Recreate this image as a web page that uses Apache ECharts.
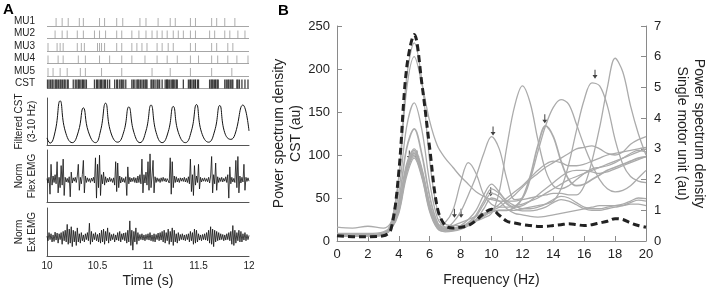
<!DOCTYPE html>
<html><head><meta charset="utf-8">
<script src="https://cdn.jsdelivr.net/npm/echarts@6/dist/echarts.min.js"></script>
<style>html,body{margin:0;padding:0;background:#fff}#c{width:708px;height:292px}</style>
</head><body><div id="c"></div>
<script>
// ---------- Panel A data ----------
const rowNames = ['CST', 'MU5', 'MU4', 'MU3', 'MU2', 'MU1'];
const mu1 = [10.09,10.15,10.21,10.32,10.36,10.52,10.57,10.69,10.75,10.92,10.98,11.10,11.22,11.27,11.42,11.47,11.63,11.68,11.76,11.86];
const mu2 = [10.08,10.15,10.20,10.30,10.36,10.47,10.52,10.58,10.69,10.74,10.84,10.91,10.98,11.04,11.09,11.14,11.19,11.25,11.30,11.35,11.42,11.47,11.61,11.66,11.76,11.81,11.89,11.96];
const mu3 = [10.01,10.10,10.13,10.16,10.30,10.34,10.37,10.50,10.52,10.54,10.57,10.69,10.74,10.84,10.89,10.94,10.99,11.09,11.14,11.20,11.25,11.42,11.47,11.63,11.68,11.79,11.84];
const mu4 = [10.01,10.11,10.16,10.31,10.38,10.52,10.62,10.74,10.84,10.97,11.09,11.19,11.29,11.42,11.50,11.63,11.69,11.79,11.88,11.99];
const mu5 = [10.01,10.06,10.13,10.20,10.33,10.38,10.54,10.74,11.04,11.22,11.42,11.63,11.83];
const cstSpikes = [10.005,10.02,10.035,10.05,10.06,10.08,10.09,10.10,10.115,10.13,10.14,10.155,10.17,10.18,10.20,10.21,
  10.26,10.28,10.295,10.31,10.32,10.335,10.35,10.36,10.375,10.39,
  10.47,10.49,10.50,10.515,10.53,10.54,10.555,10.57,10.58,10.60,10.62,
  10.67,10.69,10.70,10.72,10.735,10.745,10.76,10.78,
  10.84,10.855,10.87,10.89,10.90,10.91,10.925,10.94,10.955,10.97,10.98,10.99,
  11.03,11.04,11.055,11.07,11.09,11.10,11.115,
  11.14,11.17,11.185,11.19,11.20,11.215,11.23,11.245,11.25,11.265,11.28,11.29,
  11.35,11.40,11.415,11.42,11.435,11.45,11.465,11.47,11.49,11.50,
  11.61,11.625,11.635,11.645,11.66,11.67,11.685,11.695,
  11.76,11.775,11.79,11.80,11.815,11.83,11.84,
  11.88,11.89,11.905,11.93,11.96,11.99];

const filtT = [10.00,10.03,10.08,10.13,10.18,10.25,10.31,10.36,10.41,10.48,10.53,10.58,10.63,10.70,10.76,10.81,10.86,10.92,10.98,11.03,11.08,11.14,11.20,11.25,11.30,11.37,11.43,11.48,11.53,11.60,11.66,11.71,11.76,11.82,11.86,11.94,12.00];
const filtV = [0.15,0.04,0.28,0.94,0.30,0.05,0.28,0.79,0.28,0.05,0.30,0.89,0.28,0.06,0.28,0.81,0.27,0.05,0.30,0.85,0.27,0.05,0.28,0.82,0.27,0.05,0.30,0.86,0.27,0.06,0.30,0.84,0.26,0.12,0.22,0.85,0.30];

// EMG samples, one every 10 ms from 10.00 s to 12.00 s
const emgStart = 10, emgStep = 0.01;
const flexEMG = [
 0.05,-0.12,0.1,-0.55,0.6,-0.2,0.15,-0.1,0.2,-0.15,0.7,-0.5,0.1,-0.3,0.55,-0.2,0.8,-0.6,0.1,-0.08,
 0.06,-0.1,0.12,-0.65,0.3,-0.12,0.08,-0.05,0.1,-0.1,0.15,0.6,-0.4,0.1,-0.15,0.2,0.75,-0.5,0.15,-0.1,
 0.08,-0.06,0.05,-0.1,0.07,-0.05,0.1,-0.12,0.85,-0.7,0.6,-0.3,0.95,-0.6,0.2,-0.15,0.3,-0.2,0.12,-0.1,
 0.06,-0.08,0.1,-0.06,0.05,-0.1,0.08,-0.2,0.7,-0.45,0.65,-0.3,0.15,-0.12,0.1,-0.08,0.06,-0.1,0.12,-0.6,
 0.5,-0.15,0.1,-0.08,0.07,-0.06,0.1,-0.1,0.08,-0.12,0.15,-0.1,0.2,-0.15,0.8,-0.5,0.2,-0.12,0.3,-0.2,
 0.7,-0.4,1.0,-0.3,0.15,0.75,-0.5,0.12,-0.1,0.08,-0.06,0.05,-0.1,0.08,-0.06,0.1,-0.05,0.06,-0.08,0.05,
 0.1,-0.12,0.85,-0.55,0.7,-0.3,0.15,-0.1,0.12,-0.08,0.06,-0.1,0.08,-0.05,0.07,-0.06,0.1,-0.08,0.06,-0.1,
 0.12,-0.15,0.8,-0.45,0.2,-0.6,0.55,-0.2,0.15,-0.1,0.6,-0.35,0.1,-0.08,0.06,-0.05,0.08,-0.06,0.05,-0.07,
 0.1,-0.12,0.15,0.9,-0.5,0.2,-0.15,0.65,-0.4,0.12,-0.1,0.08,-0.06,0.1,-0.08,0.06,-0.05,0.12,-0.1,0.2,
 -0.7,0.5,-0.15,0.1,-0.08,0.06,-0.1,0.75,-0.3,0.9,-0.5,0.15,-0.12,0.1,-0.08,0.6,-0.4,0.1,-0.06,0.08,-0.05];
const extEMG = [
 0.05,-0.15,0.2,-0.1,0.15,-0.2,0.1,-0.18,0.22,-0.12,0.18,-0.25,0.15,-0.1,0.2,-0.3,0.25,-0.15,0.3,-0.2,
 0.55,-0.3,0.35,-0.25,0.45,-0.4,0.3,-0.2,0.25,-0.35,0.4,-0.2,0.15,-0.25,0.2,-0.15,0.1,-0.2,0.15,-0.1,
 0.2,-0.15,0.6,-0.3,0.25,-0.2,0.15,-0.1,0.2,-0.15,0.12,-0.2,0.18,-0.25,0.3,-0.2,0.35,-0.3,0.25,-0.15,
 0.4,-0.25,0.2,-0.15,0.12,-0.1,0.15,-0.2,0.1,-0.12,0.2,-0.15,0.25,-0.2,0.15,-0.1,0.18,-0.15,0.2,-0.25,
 0.3,-0.2,0.7,-0.35,0.3,-0.55,0.25,-0.2,0.4,-0.3,0.2,-0.15,0.12,-0.1,0.15,-0.12,0.1,-0.15,0.12,-0.1,
 0.15,-0.12,0.2,-0.15,0.1,-0.18,0.15,-0.2,0.12,-0.1,0.18,-0.15,0.2,-0.12,0.25,-0.2,0.3,-0.25,0.2,-0.15,
 0.35,-0.3,0.25,-0.2,0.4,-0.35,0.3,-0.2,0.15,-0.25,0.2,-0.15,0.12,-0.1,0.15,-0.12,0.1,-0.15,0.12,-0.1,
 0.15,-0.2,0.25,-0.15,0.2,-0.3,0.35,-0.25,0.3,-0.2,0.15,-0.12,0.1,-0.15,0.12,-0.1,0.15,-0.12,0.2,-0.15,
 0.3,-0.25,0.45,-0.3,0.35,-0.4,0.3,-0.2,0.25,-0.15,0.2,-0.12,0.15,-0.1,0.12,-0.15,0.1,-0.12,0.15,-0.1,
 0.2,-0.15,0.25,-0.3,0.5,-0.35,0.3,-0.25,0.2,-0.15,0.3,-0.2,0.25,-0.2,0.15,-0.12,0.2,-0.15,0.12,-0.1,0.08];

// ---------- Panel B data ----------
const freq = [0,1,2,3,3.5,4,4.5,5,5.5,6,6.5,7,7.5,8,8.5,9,9.5,10,10.5,11,11.5,12,12.5,13,13.5,14,14.5,15,15.5,16,16.5,17,17.5,18,18.5,19,19.5,20];
const cstPSD = [6,5,5,6,14,80,200,240,182,108,38,18,15,16,18,24,32,37,30,23,21,19,18,17,17,18,19,20,19,18,19,21,23,26,25,21,18,16];
const mu_a = [0.2,0.2,0.2,0.25,0.6,2.1,5.3,6.45,5.2,2.6,1.0,0.55,0.5,0.5,0.55,0.65,0.75,0.9,1.6,3.1,4.4,5.05,4.5,3.3,2.3,1.8,1.7,1.8,2.0,2.2,2.35,2.4,2.45,2.55,2.7,2.85,2.95,2.9];
const mu_b = [0.25,0.25,0.25,0.3,0.55,2.0,4.9,6.0,5.1,3.9,3.1,2.7,2.4,2.1,1.85,1.6,1.45,1.35,1.3,1.3,1.3,1.35,1.4,1.45,1.5,1.55,1.55,1.5,1.5,1.8,2.6,3.7,5.0,5.95,5.5,4.4,3.5,2.8];
const mu_c = [0.2,0.2,0.2,0.25,0.5,1.6,3.7,4.5,3.6,1.9,0.75,0.45,0.4,0.45,0.55,0.7,0.85,1.0,1.2,1.4,1.6,1.8,2.05,2.3,2.5,2.6,2.55,2.45,2.45,2.5,2.6,2.7,2.8,2.85,2.9,2.95,3.0,3.05];
const mu_d = [0.2,0.2,0.2,0.25,0.45,1.1,2.4,2.95,2.3,1.2,0.5,0.4,0.6,0.95,1.5,2.1,2.85,3.4,3.0,2.0,1.35,1.4,2.0,2.9,3.75,4.35,4.6,4.45,3.8,3.1,2.5,2.0,1.7,1.6,1.65,1.8,2.05,2.3];
const mu_e = [0.2,0.2,0.2,0.25,0.45,1.3,3.0,3.65,2.8,1.45,0.6,0.4,0.4,0.45,0.55,0.7,0.85,0.95,1.0,1.0,1.1,1.4,2.1,3.1,3.75,3.4,2.6,2.0,1.8,1.85,2.0,2.15,2.3,2.4,2.5,2.6,2.7,2.75];
const mu_f = [0.2,0.2,0.2,0.25,0.45,1.1,2.4,2.9,2.25,1.15,0.5,0.35,0.35,0.4,0.5,0.65,0.8,0.95,1.0,1.0,1.0,1.05,1.1,1.15,1.2,1.3,1.7,2.5,3.6,4.6,5.15,5.05,4.4,3.3,2.5,2.1,1.95,1.9];
const mu_g = [0.45,0.42,0.48,0.42,0.6,1.2,2.5,3.0,2.35,1.2,0.55,0.45,0.5,0.6,0.7,0.8,0.9,1.0,1.1,1.3,1.5,1.75,2.0,2.2,2.4,2.55,2.7,2.85,3.0,3.05,3.1,3.0,2.85,2.8,2.9,3.15,3.3,3.4];
const mu_h = [0.15,0.15,0.15,0.2,0.4,1.05,2.3,2.85,2.2,1.1,0.5,0.6,1.0,1.9,2.55,2.2,1.5,1.2,1.1,1.1,1.15,1.2,1.3,1.4,1.55,1.7,1.85,2.0,2.1,2.2,2.3,2.4,2.5,2.6,2.7,2.8,2.9,3.0];
const mu_i = [0.2,0.2,0.2,0.25,0.42,1.0,2.25,2.8,2.15,1.05,0.45,0.35,0.38,0.45,0.6,0.85,1.3,1.7,1.55,1.3,1.15,1.05,1.05,1.1,1.2,1.35,1.45,1.4,1.25,1.1,1.05,1.05,1.1,1.15,1.2,1.3,1.4,1.38];
const mu_j = [0.18,0.18,0.18,0.22,0.4,0.95,2.2,2.75,2.1,1.0,0.42,0.32,0.35,0.42,0.55,0.8,1.2,1.55,1.45,1.2,1.05,0.98,0.98,1.02,1.1,1.25,1.35,1.3,1.18,1.05,1.0,1.0,1.05,1.1,1.15,1.25,1.33,1.3];
const mu_k = [0.15,0.15,0.15,0.2,0.38,0.9,2.1,2.7,2.05,0.95,0.4,0.3,0.32,0.38,0.5,0.7,1.05,1.4,1.3,1.05,0.9,0.85,0.8,0.78,0.8,0.85,0.9,0.95,1.0,1.05,1.1,1.15,1.15,1.15,1.15,1.2,1.2,1.15];
const mu_l = [0.2,0.2,0.2,0.25,0.45,1.05,2.35,2.85,2.2,1.1,0.48,0.38,0.4,0.5,0.7,1.0,1.5,1.85,1.6,1.25,1.1,1.15,1.3,1.5,1.7,1.9,2.1,2.25,2.3,2.3,2.25,2.2,2.25,2.35,2.45,2.55,2.65,2.75];
const arrowFreq = [4.68, 5.17, 7.6, 8.03, 9.95, 10.1, 13.45, 16.7];
const arrowVal  = [2.8, 2.8, 0.9, 0.9, 1.6, 3.58, 3.98, 5.43];

// ---------- Chart ----------
const FONT = '"Liberation Sans", Arial, sans-serif';
const AX = '#555';
const BAX = '#8a8a8a';
const MUGRAY = '#9a9a9a';
const CURVE = '#ababab';
const chart = echarts.init(document.getElementById('c'), null, {renderer: 'canvas'});

const pairs = (xs, ys) => xs.map((x, i) => [x, ys[i]]);
const emgPairs = vals => vals.map((v, i) => [emgStart + i * emgStep, v]);
const muRows = [[mu1, 5], [mu2, 4], [mu3, 3], [mu4, 2], [mu5, 1]];

const series = [];
muRows.forEach(([arr, row]) => {
  series.push({type: 'scatter', xAxisIndex: 0, yAxisIndex: 0, clip: false, silent: true,
    symbol: 'rect', symbolSize: [1, 8], symbolOffset: [0, '-50%'],
    itemStyle: {color: MUGRAY}, data: arr.map(t => [t, row])});
});
series.push({type: 'scatter', xAxisIndex: 0, yAxisIndex: 0, clip: false, silent: true,
  symbol: 'rect', symbolSize: [1.3, 9], symbolOffset: [0, '-50%'],
  itemStyle: {color: '#111'}, data: cstSpikes.map(t => [t, 0])});
series.push({type: 'line', xAxisIndex: 1, yAxisIndex: 1, smooth: 0.5, showSymbol: false,
  lineStyle: {color: '#111', width: 1}, data: pairs(filtT, filtV)});
series.push({type: 'line', xAxisIndex: 2, yAxisIndex: 2, showSymbol: false,
  lineStyle: {color: '#111', width: 0.8}, data: emgPairs(flexEMG)});
series.push({type: 'line', xAxisIndex: 3, yAxisIndex: 3, showSymbol: false,
  lineStyle: {color: '#111', width: 0.8}, data: emgPairs(extEMG)});

const muCurves = [mu_a, mu_b, mu_c, mu_d, mu_e, mu_f, mu_g, mu_h, mu_i, mu_j, mu_k, mu_l];
muCurves.forEach((c, k) => {
  series.push({type: 'line', xAxisIndex: 4, yAxisIndex: 5, smooth: 0.35, showSymbol: false,
    lineStyle: {color: CURVE, width: k === 4 ? 1.7 : 1.3}, data: pairs(freq, c)});
});
series.push({type: 'line', xAxisIndex: 4, yAxisIndex: 4, smooth: 0.35, showSymbol: false,
  lineStyle: {color: '#222', width: 3, type: [7, 4]}, data: pairs(freq, cstPSD)});
series.push({type: 'scatter', xAxisIndex: 4, yAxisIndex: 5, silent: true,
  symbol: 'path://M2,0 L3,0 L3,6 L5,6 L2.5,10 L0,6 L2,6 Z', symbolSize: [5, 9],
  itemStyle: {color: '#111'}, data: pairs(arrowFreq, arrowVal)});

const plainX = g => ({gridIndex: g, type: 'value', min: 10, max: 12,
  axisLine: {onZero: false, lineStyle: {color: AX}}, axisTick: {show: false},
  axisLabel: {show: false}, splitLine: {show: false}});
const plainY = (g, mn, mx, name) => ({gridIndex: g, type: 'value', min: mn, max: mx,
  axisLine: {show: true, onZero: false, lineStyle: {color: AX}}, axisTick: {show: false},
  axisLabel: {show: false}, splitLine: {show: false},
  name: name, nameLocation: 'middle', nameRotate: 90, nameGap: 8,
  nameTextStyle: {fontSize: 10, color: '#222', lineHeight: 13, fontFamily: FONT}});

const option = {
  animation: false,
  textStyle: {fontFamily: FONT},
  graphic: [
    {type: 'text', left: 3, top: 2, style: {text: 'A', font: 'bold 15px "Liberation Sans", Arial', fill: '#000'}},
    {type: 'text', left: 278, top: 3, style: {text: 'B', font: 'bold 15px "Liberation Sans", Arial', fill: '#000'}}
  ],
  grid: [
    {left: 47, width: 202, top: 26, height: 62.5},
    {left: 47, width: 202, top: 98, height: 47},
    {left: 47, width: 202, top: 150, height: 52},
    {left: 47, width: 202, top: 208, height: 48},
    {left: 337, width: 312, top: 26, height: 217}
  ],
  xAxis: [
    {gridIndex: 0, type: 'value', min: 10, max: 12, show: false},
    plainX(1), plainX(2),
    Object.assign(plainX(3), {interval: 0.5,
      axisLabel: {show: true, fontSize: 10, color: '#222', margin: 5},
      name: 'Time (s)', nameLocation: 'middle', nameGap: 18,
      nameTextStyle: {fontSize: 14, color: '#222'}}),
    {gridIndex: 4, type: 'value', min: 0, max: 20, interval: 2,
      axisLine: {onZero: false, lineStyle: {color: BAX}},
      axisTick: {inside: true, length: 5, lineStyle: {color: BAX}},
      axisLabel: {fontSize: 13, color: '#222', margin: 7}, splitLine: {show: false},
      name: 'Frequency (Hz)', nameLocation: 'middle', nameGap: 32,
      nameTextStyle: {fontSize: 14, color: '#222'}}
  ],
  yAxis: [
    {gridIndex: 0, type: 'value', min: 0, max: 5, interval: 1,
      axisLine: {show: false}, axisTick: {show: false},
      axisLabel: {fontSize: 10, color: '#222', margin: 12, verticalAlign: 'bottom',
        formatter: v => rowNames[v]},
      splitLine: {show: true, lineStyle: {color: '#a6a6a6', width: 1}}},
    plainY(1, 0, 1, 'Filtered CST\n(3-10 Hz)'),
    plainY(2, -0.85, 1.15, 'Norm\nFlex EMG'),
    plainY(3, -0.8, 1.25, 'Norm\nExt EMG'),
    {gridIndex: 4, type: 'value', min: 0, max: 250, interval: 50, position: 'left',
      axisLine: {show: true, onZero: false, lineStyle: {color: BAX}},
      axisTick: {show: true, inside: true, length: 5, lineStyle: {color: BAX}},
      axisLabel: {fontSize: 13, color: '#222', margin: 7}, splitLine: {show: false},
      name: 'Power spectrum density\nCST (au)', nameLocation: 'middle', nameRotate: 90, nameGap: 27,
      nameTextStyle: {fontSize: 14, color: '#222', lineHeight: 17}},
    {gridIndex: 4, type: 'value', min: 0, max: 7, interval: 1, position: 'right',
      axisLine: {show: true, onZero: false, lineStyle: {color: BAX}},
      axisTick: {show: true, inside: true, length: 5, lineStyle: {color: BAX}},
      axisLabel: {fontSize: 13, color: '#222', margin: 8}, splitLine: {show: false},
      name: 'Power spectrum density\nSingle motor unit (au)', nameLocation: 'middle', nameRotate: -90, nameGap: 27,
      nameTextStyle: {fontSize: 14, color: '#222', lineHeight: 17}}
  ],
  series: series
};
chart.setOption(option);
</script></body></html>
